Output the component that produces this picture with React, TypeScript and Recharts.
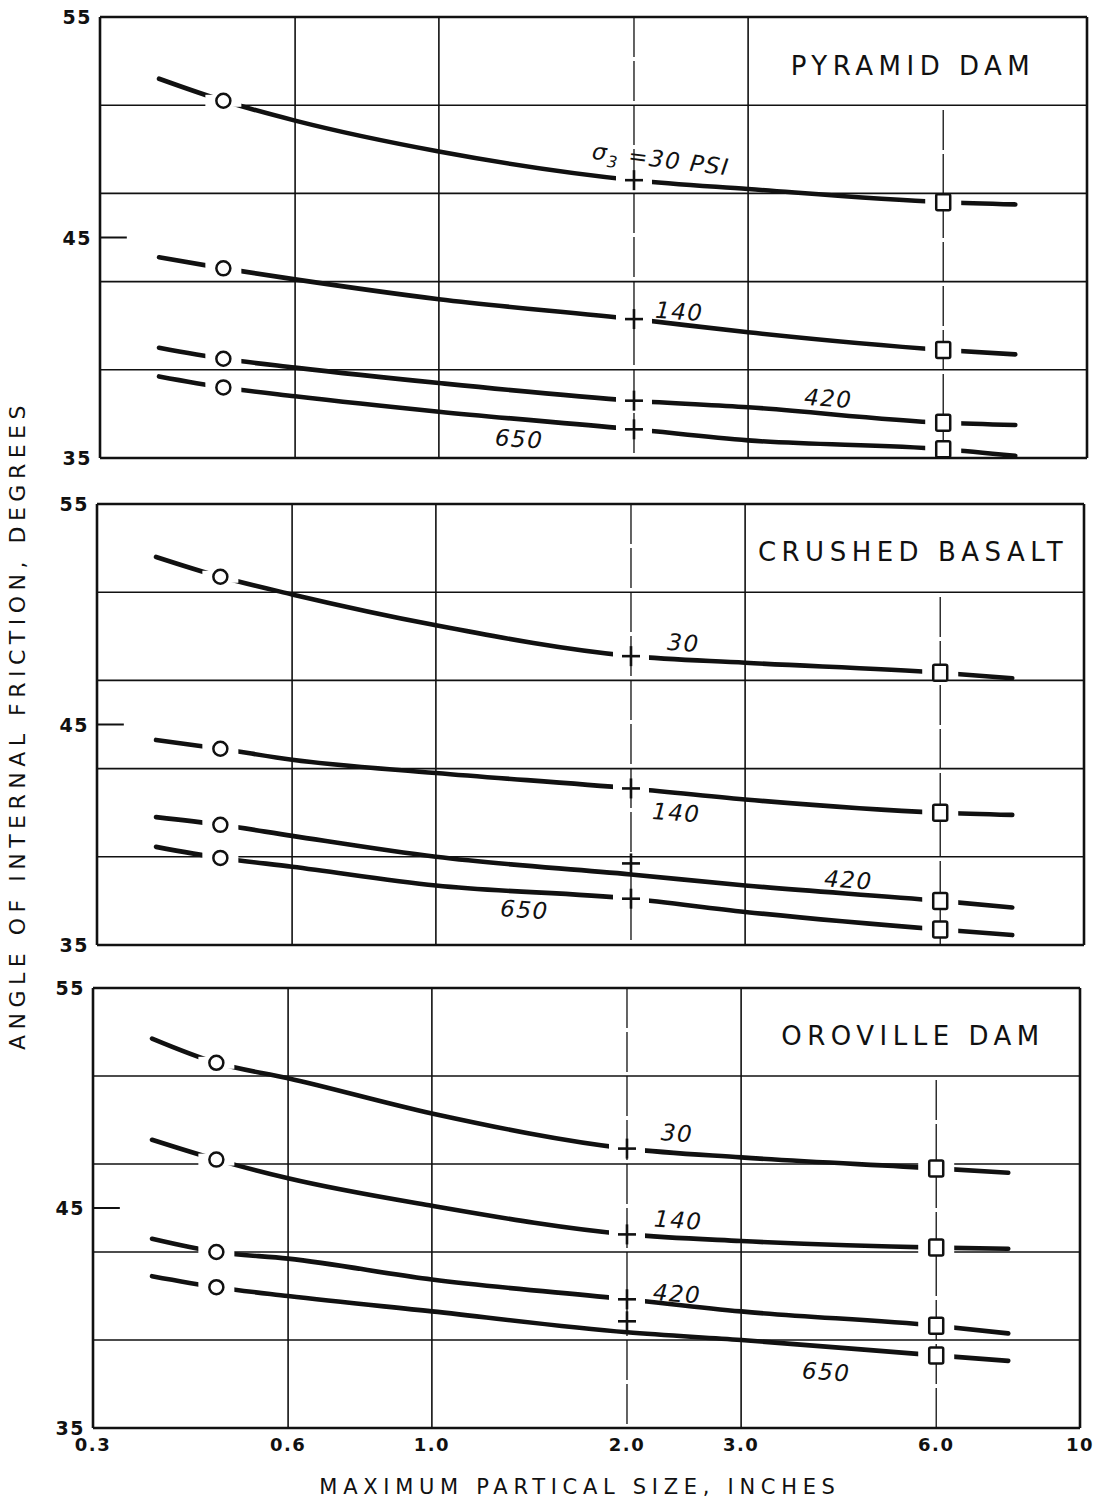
import {
  CartesianGrid,
  ComposedChart,
  Line,
  ReferenceDot,
  ReferenceLine,
  Scatter,
  XAxis,
  YAxis,
} from "recharts";

// Maximum particle size (in) where each curve is sampled; markers sit at 0.465, 2.0 and 6.0.
const SIZE_IN = [0.37, 0.465, 0.6, 1.0, 2.0, 3.0, 6.0, 7.75];
const CIRCLE_X = 0.465;
const PLUS_X = 2.0;
const SQUARE_X = 6.0;

const X_TICKS = [0.3, 0.6, 1, 2, 3, 6, 10];
const Y_TICKS = [35, 45, 55];
const Y_GRID = [39, 43, 47, 51];
const X_GRID_MAIN = [0.6, 1, 3];
const X_GRID_TEST = [2];
// the 6.0 test line only runs from the bottom up to the 51° grid line
const SQUARE_GUIDE = [
  { x: 6, g: 35 },
  { x: 6, g: 51 },
];

// Pyramid Dam, σ3 = 30 / 140 / 420 / 650 psi
const PYRAMID_30 = [52.2, 51.2, 50.3, 48.9, 47.6, 47.2, 46.6, 46.5];
const PYRAMID_140 = [44.1, 43.6, 43.1, 42.2, 41.3, 40.7, 39.9, 39.7];
const PYRAMID_420 = [40.0, 39.5, 39.1, 38.4, 37.6, 37.3, 36.6, 36.5];
const PYRAMID_650 = [38.7, 38.2, 37.8, 37.1, 36.3, 35.8, 35.4, 35.1];
const PYRAMID_CIRCLE = [51.2, 43.6, 39.5, 38.2];
const PYRAMID_PLUS = [47.6, 41.3, 37.6, 36.3];
const PYRAMID_SQUARE = [46.6, 39.9, 36.6, 35.4];
const PYRAMID_PLUS_OFF = [false, false, false, false];

// Crushed basalt
const BASALT_30 = [52.6, 51.7, 50.9, 49.5, 48.1, 47.8, 47.35, 47.1];
const BASALT_140 = [44.3, 43.9, 43.4, 42.8, 42.1, 41.6, 41.0, 40.9];
const BASALT_420 = [40.8, 40.45, 39.95, 39.0, 38.2, 37.7, 37.0, 36.7];
const BASALT_650 = [39.45, 38.95, 38.55, 37.7, 37.1, 36.5, 35.7, 35.45];
const BASALT_CIRCLE = [51.7, 43.9, 40.45, 38.95];
const BASALT_PLUS = [48.1, 42.1, 38.7, 37.1];
const BASALT_SQUARE = [47.35, 41.0, 37.0, 35.7];
const BASALT_PLUS_OFF = [false, false, true, false];

// Oroville Dam
const OROVILLE_30 = [52.7, 51.6, 50.9, 49.3, 47.7, 47.3, 46.8, 46.6];
const OROVILLE_140 = [48.1, 47.2, 46.35, 45.1, 43.8, 43.5, 43.2, 43.15];
const OROVILLE_420 = [43.6, 43.0, 42.7, 41.75, 40.85, 40.3, 39.65, 39.3];
const OROVILLE_650 = [41.9, 41.4, 41.0, 40.3, 39.35, 39.0, 38.3, 38.05];
const OROVILLE_CIRCLE = [51.6, 47.2, 43.0, 41.4];
const OROVILLE_PLUS = [47.7, 43.8, 40.85, 39.85];
const OROVILLE_SQUARE = [46.8, 43.2, 39.65, 38.3];
const OROVILLE_PLUS_OFF = [false, false, false, true];

// curve labels: text, x (in), y (deg), tilt
const PYRAMID_LABELS = [
  { text: "σ3 =30 PSI", x: 2.2, y: 48.55, tilt: 7 },
  { text: "140", x: 2.35, y: 41.64, tilt: 4 },
  { text: "420", x: 3.99, y: 37.7, tilt: 4 },
  { text: "650", x: 1.33, y: 35.86, tilt: 4 },
];
const BASALT_LABELS = [
  { text: "30", x: 2.41, y: 48.7, tilt: 4 },
  { text: "140", x: 2.35, y: 41.0, tilt: 4 },
  { text: "420", x: 4.33, y: 37.95, tilt: 4 },
  { text: "650", x: 1.37, y: 36.6, tilt: 4 },
];
const OROVILLE_LABELS = [
  { text: "30", x: 2.39, y: 48.4, tilt: 4 },
  { text: "140", x: 2.4, y: 44.45, tilt: 4 },
  { text: "420", x: 2.39, y: 41.1, tilt: 4 },
  { text: "650", x: 4.06, y: 37.55, tilt: 4 },
];

const PRESSURES = ["30", "140", "420", "650"];

const PANELS = [
  {
    title: "PYRAMID DAM",
    curves: [PYRAMID_30, PYRAMID_140, PYRAMID_420, PYRAMID_650],
    circle: PYRAMID_CIRCLE,
    plus: PYRAMID_PLUS,
    square: PYRAMID_SQUARE,
    plusOff: PYRAMID_PLUS_OFF,
    labels: PYRAMID_LABELS,
  },
  {
    title: "CRUSHED BASALT",
    curves: [BASALT_30, BASALT_140, BASALT_420, BASALT_650],
    circle: BASALT_CIRCLE,
    plus: BASALT_PLUS,
    square: BASALT_SQUARE,
    plusOff: BASALT_PLUS_OFF,
    labels: BASALT_LABELS,
  },
  {
    title: "OROVILLE DAM",
    curves: [OROVILLE_30, OROVILLE_140, OROVILLE_420, OROVILLE_650],
    circle: OROVILLE_CIRCLE,
    plus: OROVILLE_PLUS,
    square: OROVILLE_SQUARE,
    plusOff: OROVILLE_PLUS_OFF,
    labels: OROVILLE_LABELS,
  },
];

// page layout of each panel (px)
const LAYOUT = [
  { top: 0, height: 470, plotTop: 17, plotBottom: 458, left: 100, right: 1087, titleY: 66 },
  { top: 470, height: 490, plotTop: 504, plotBottom: 945, left: 97, right: 1084, titleY: 552 },
  { top: 960, height: 549, plotTop: 988, plotBottom: 1428, left: 93, right: 1080, titleY: 1036 },
];

const W = 1095;
const Y_AXIS_W = 60;
const X_AXIS_H = 40;
const FONT = "'DejaVu Sans', 'Liberation Sans', sans-serif";
const INK = "#111";

function YTick({ x, y, payload }: any) {
  return (
    <text
      x={x}
      y={y}
      dy={7}
      textAnchor="end"
      fill={INK}
      style={{ fontFamily: FONT, fontSize: 19, fontWeight: 700, letterSpacing: 1.5 }}
    >
      {payload.value}
    </text>
  );
}

function XTick({ x, y, payload }: any) {
  const v = payload.value;
  return (
    <text
      x={x}
      y={y}
      dy={15}
      textAnchor="middle"
      fill={INK}
      style={{ fontFamily: FONT, fontSize: 18, fontWeight: 700, letterSpacing: 1.5 }}
    >
      {v === 10 ? "10" : v.toFixed(1)}
    </text>
  );
}

function Marker(props: any) {
  const { cx, cy } = props;
  const kind = props.payload?.kind ?? props.kind;
  const gap = props.payload?.gap ?? props.gap;
  if (cx == null || cy == null) return null;
  return (
    <g>
      {gap && <rect x={cx - 18} y={cy - 6} width={36} height={12} fill="#fff" />}
      {kind === "circle" && (
        <circle cx={cx} cy={cy} r={7} fill="#fff" stroke={INK} strokeWidth={2.5} />
      )}
      {kind === "square" && (
        <rect
          x={cx - 7}
          y={cy - 8}
          width={14}
          height={16}
          rx={1.5}
          fill="#fff"
          stroke={INK}
          strokeWidth={2.5}
        />
      )}
      {kind === "plus" && (
        <g stroke={INK} strokeWidth={2.6}>
          <line x1={cx - 9} y1={cy} x2={cx + 9} y2={cy} />
          <line x1={cx} y1={cy - 10} x2={cx} y2={cy + 10} />
        </g>
      )}
    </g>
  );
}

function curveLabel(text: string, tilt: number) {
  return (props: any) => {
    const { cx, cy } = props;
    const style = {
      fontFamily: FONT,
      fontSize: 23,
      fontStyle: "italic" as const,
      letterSpacing: 1.5,
    };
    const isSigma = text.startsWith("σ");
    return (
      <text
        x={cx}
        y={cy}
        dy={8}
        textAnchor="middle"
        fill={INK}
        transform={`rotate(${tilt} ${cx} ${cy})`}
        style={style}
      >
        {isSigma ? (
          <>
            <tspan>σ</tspan>
            <tspan dy={6} fontSize={16}>
              3
            </tspan>
            <tspan dy={-6}>{text.slice(2)}</tspan>
          </>
        ) : (
          text
        )}
      </text>
    );
  };
}

function Panel({ panel, box, showX }: any) {
  const rows = SIZE_IN.map((x, i) => {
    const row: Record<string, number> = { x };
    PRESSURES.forEach((p, j) => {
      row["s" + p] = panel.curves[j][i];
    });
    return row;
  });

  const markers: any[] = [];
  PRESSURES.forEach((_, j) => {
    markers.push({ x: CIRCLE_X, y: panel.circle[j], kind: "circle", gap: true });
    markers.push({ x: PLUS_X, y: panel.plus[j], kind: "plus", gap: !panel.plusOff[j] });
    markers.push({ x: SQUARE_X, y: panel.square[j], kind: "square", gap: true });
  });

  const margin = {
    top: box.plotTop - box.top,
    right: W - box.right,
    bottom: box.top + box.height - box.plotBottom - (showX ? X_AXIS_H : 0),
    left: box.left - Y_AXIS_W,
  };

  return (
    <div style={{ position: "absolute", left: 0, top: box.top, width: W, height: box.height }}>
      <ComposedChart width={W} height={box.height} data={rows} margin={margin}>
        <CartesianGrid
          horizontal
          vertical
          horizontalValues={Y_GRID}
          verticalValues={X_GRID_MAIN}
          stroke={INK}
          strokeWidth={1.6}
          strokeDasharray="0"
        />
        <CartesianGrid
          horizontal={false}
          vertical
          verticalValues={X_GRID_TEST}
          stroke={INK}
          strokeWidth={1.3}
          strokeDasharray="40 4"
        />
        <CartesianGrid
          horizontal
          vertical
          horizontalValues={[35, 55]}
          verticalValues={[0.3, 10]}
          stroke={INK}
          strokeWidth={2.6}
          strokeDasharray="0"
        />
        <XAxis
          dataKey="x"
          type="number"
          scale="log"
          domain={[0.3, 10]}
          ticks={X_TICKS}
          allowDataOverflow
          hide={!showX}
          height={X_AXIS_H}
          axisLine={false}
          tickLine={false}
          tick={<XTick />}
          interval={0}
        />
        <YAxis
          type="number"
          domain={[35, 55]}
          ticks={Y_TICKS}
          width={Y_AXIS_W}
          axisLine={false}
          tickLine={false}
          tick={<YTick />}
          interval={0}
        />
        <Line
          data={SQUARE_GUIDE}
          dataKey="g"
          type="linear"
          stroke={INK}
          strokeWidth={1.3}
          strokeDasharray="40 4"
          dot={false}
          activeDot={false}
          isAnimationActive={false}
        />
        {PRESSURES.map((p) => (
          <Line
            key={p}
            dataKey={"s" + p}
            type="monotone"
            stroke={INK}
            strokeWidth={4.6}
            strokeLinecap="round"
            dot={false}
            activeDot={false}
            isAnimationActive={false}
          />
        ))}
        <Scatter data={markers} dataKey="y" shape={Marker} isAnimationActive={false} />
        <ReferenceLine
          segment={[
            { x: 0.3, y: 45 },
            { x: 0.33, y: 45 },
          ]}
          stroke={INK}
          strokeWidth={2}
          ifOverflow="visible"
        />
        {panel.labels.map((l: any) => (
          <ReferenceDot
            key={l.text}
            x={l.x}
            y={l.y}
            r={0}
            ifOverflow="visible"
            shape={curveLabel(l.text, l.tilt)}
          />
        ))}
      </ComposedChart>
    </div>
  );
}

export default function App() {
  return (
    <div
      style={{
        position: "absolute",
        left: 0,
        top: 0,
        width: W,
        height: 1509,
        background: "#fff",
        fontFamily: FONT,
        color: INK,
      }}
    >
      {PANELS.map((panel, i) => (
        <Panel key={panel.title} panel={panel} box={LAYOUT[i]} showX={i === PANELS.length - 1} />
      ))}
      {PANELS.map((panel, i) => (
        <div
          key={"t" + panel.title}
          style={{
            position: "absolute",
            left: 713,
            width: 400,
            top: LAYOUT[i].titleY - 15,
            lineHeight: "30px",
            textAlign: "center",
            fontSize: 26,
            letterSpacing: 5.5,
            whiteSpace: "nowrap",
          }}
        >
          {panel.title}
        </div>
      ))}
      <div
        style={{
          position: "absolute",
          left: 18 - 370,
          width: 740,
          top: 725 - 15,
          lineHeight: "30px",
          textAlign: "center",
          fontSize: 22,
          letterSpacing: 5.5,
          whiteSpace: "nowrap",
          transform: "rotate(-90deg)",
        }}
      >
        ANGLE OF INTERNAL FRICTION, DEGREES
      </div>
      <div
        style={{
          position: "absolute",
          left: 280,
          width: 600,
          top: 1487 - 15,
          lineHeight: "30px",
          textAlign: "center",
          fontSize: 21,
          letterSpacing: 5.7,
          whiteSpace: "nowrap",
        }}
      >
        MAXIMUM PARTICAL SIZE, INCHES
      </div>
    </div>
  );
}
